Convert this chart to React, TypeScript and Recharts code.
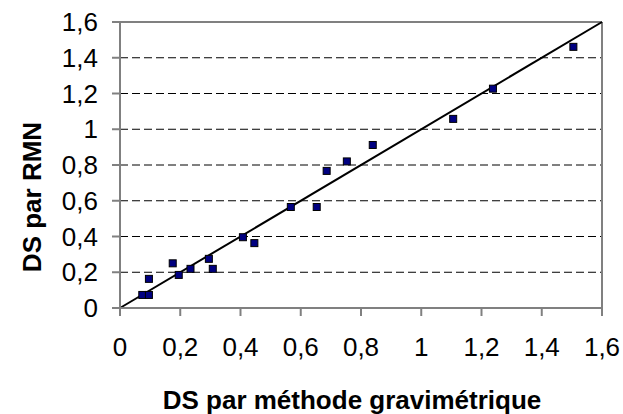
import {
  CartesianGrid,
  Label,
  ReferenceLine,
  Scatter,
  ScatterChart,
  XAxis,
  YAxis,
} from "recharts";

// DS: gravimetric method (x) vs NMR (y)
const dsGravimetric = [
  0.074, 0.096, 0.096, 0.175, 0.195, 0.234, 0.295, 0.308, 0.408, 0.446,
  0.567, 0.653, 0.686, 0.753, 0.839, 1.106, 1.238, 1.505,
];
const dsRmn = [
  0.073, 0.073, 0.163, 0.25, 0.185, 0.219, 0.275, 0.219, 0.396, 0.363,
  0.565, 0.565, 0.767, 0.82, 0.912, 1.058, 1.227, 1.461,
];
const axisTicks = [0, 0.2, 0.4, 0.6, 0.8, 1, 1.2, 1.4, 1.6];
const gridTicks = [0.2, 0.4, 0.6, 0.8, 1, 1.2, 1.4];

const points = dsGravimetric.map((x, i) => ({ x, y: dsRmn[i] }));

const font = "'Liberation Sans', Arial, sans-serif";
const frame = "#808080";

function commaFormatter(value: number) {
  return String(value).replace(".", ",");
}

function SquareMarker(props: { cx?: number; cy?: number }) {
  const { cx = 0, cy = 0 } = props;
  return (
    <rect
      x={cx - 3.5}
      y={cy - 3.5}
      width={7}
      height={7}
      fill="#000080"
      stroke="#000"
      strokeWidth={1}
    />
  );
}

export default function App() {
  return (
    <div style={{ position: "absolute", left: 0, top: 0 }}>
      <ScatterChart
        width={623}
        height={414}
        margin={{ top: 22, right: 21, bottom: 0, left: 0 }}
      >
        <CartesianGrid
          horizontal
          vertical={false}
          horizontalValues={gridTicks}
          stroke="#000"
          strokeDasharray="8 4"
        />
        <XAxis
          type="number"
          dataKey="x"
          domain={[0, 1.6]}
          ticks={axisTicks}
          tickFormatter={commaFormatter}
          height={106}
          tickSize={8}
          tickMargin={22}
          axisLine={{ stroke: frame, strokeWidth: 2 }}
          tickLine={{ stroke: frame, strokeWidth: 2 }}
          tick={{ fill: "#000", fontSize: 26, fontFamily: font }}
        >
          <Label
            value="DS par méthode gravimétrique"
            position="insideBottom"
            offset={5}
            dx={-9}
            style={{ fill: "#000", fontSize: 26, fontWeight: "bold", fontFamily: font }}
          />
        </XAxis>
        <YAxis
          type="number"
          dataKey="y"
          domain={[0, 1.6]}
          ticks={axisTicks}
          tickFormatter={commaFormatter}
          width={120}
          tickSize={8}
          tickMargin={14}
          axisLine={{ stroke: frame, strokeWidth: 2 }}
          tickLine={{ stroke: frame, strokeWidth: 2 }}
          tick={{ fill: "#000", fontSize: 26, fontFamily: font }}
        >
          <Label
            content={() => (
              <text
                x={41}
                y={197}
                transform="rotate(-90, 41, 197)"
                textAnchor="middle"
                fill="#000"
                fontSize={26}
                fontWeight="bold"
                fontFamily={font}
              >
                DS par RMN
              </text>
            )}
          />
        </YAxis>
        <ReferenceLine y={1.6} stroke={frame} strokeWidth={2} />
        <ReferenceLine x={1.6} stroke={frame} strokeWidth={2} />
        <ReferenceLine
          segment={[
            { x: 0, y: 0 },
            { x: 1.6, y: 1.6 },
          ]}
          stroke="#000"
          strokeWidth={2}
        />
        <Scatter
          data={points}
          shape={SquareMarker}
          isAnimationActive={false}
        />
      </ScatterChart>
    </div>
  );
}
